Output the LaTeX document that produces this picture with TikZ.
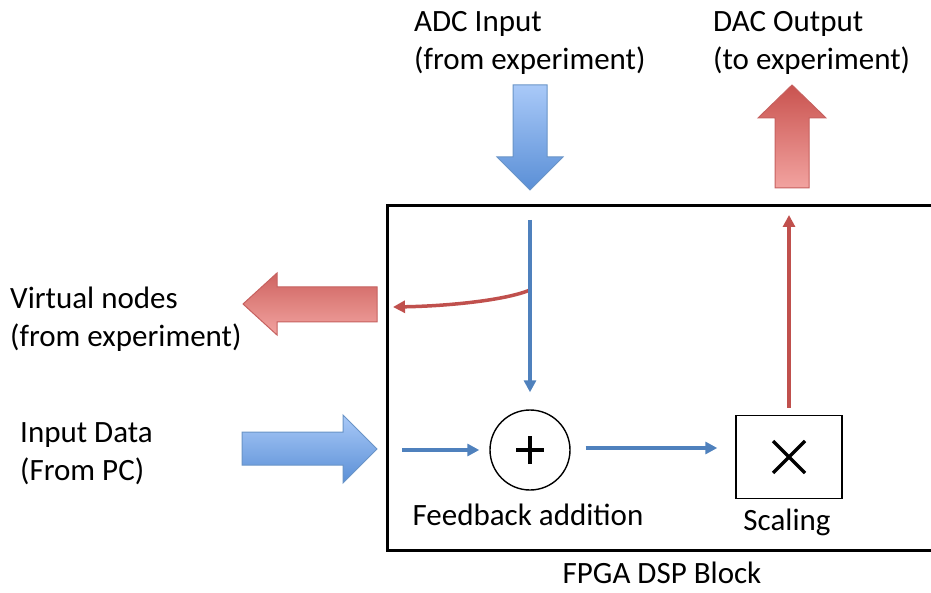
\documentclass[tikz,border=0pt]{standalone}
\usepackage{fontspec}
\setmainfont{Carlito}
\usetikzlibrary{arrows.meta}
\definecolor{flowblue}{HTML}{4F81BD}
\definecolor{flowred}{HTML}{C0504D}
\definecolor{bluelight}{HTML}{A9C9F8}
\definecolor{bluedark}{HTML}{5A8FD6}
\definecolor{redlight}{HTML}{F2A3A0}
\definecolor{reddark}{HTML}{C9534F}
\begin{document}
\begin{tikzpicture}[x=1pt,y=-1pt,
  txt/.style={font=\fontsize{31}{38}\selectfont, inner sep=0pt, align=left},
  tip/.style={-{Triangle[length=12pt,width=12pt]}},
  blueflow/.style={draw=flowblue, line width=3.5pt, tip},
  redflow/.style={draw=flowred, line width=3.5pt, tip},
  bluebig/.style={draw=flowblue!85, line width=1pt},
  redbig/.style={draw=flowred!90, line width=1pt},
  unit/.style={draw, line width=1.4pt, inner sep=0pt}]
\useasboundingbox (0,0) rectangle (931,593);

% FPGA block outline (open towards the right edge)
\draw[line width=3pt] (931,206) -- (387,206) -- (387,550) -- (931,550);

% block arrows
\shade[bluebig, top color=bluelight, bottom color=bluedark]
  (513,85) -- (547,85) -- (547,157) -- (563,157) -- (530,190) -- (497,157) -- (513,157) -- cycle;
\shade[redbig, top color=reddark, bottom color=redlight]
  (792,85) -- (826,118) -- (809,118) -- (809,188) -- (775,188) -- (775,118) -- (758,118) -- cycle;
\shade[redbig, top color=reddark!90, bottom color=redlight]
  (243,304) -- (277,273) -- (277,287) -- (377,287) -- (377,322) -- (277,322) -- (277,335) -- cycle;
\shade[bluebig, top color=bluelight, bottom color=bluedark]
  (242,432) -- (343,432) -- (343,415) -- (377,449) -- (343,483) -- (343,465) -- (242,465) -- cycle;

% labels (anchored at the baseline of their second line)
\node[txt, anchor=base west] (adc) at (414,70) {ADC Input\\(from experiment)};
\node[txt, anchor=base west] (dac) at (713,70) {DAC Output\\(to experiment)};
\node[txt, anchor=base west] (vn) at (10,346) {Virtual nodes\\(from experiment)};
\node[txt, anchor=base west] (pc) at (20,480) {Input Data\\(From PC)};

% processing units
\node[unit, circle, minimum size=80pt,
  path picture={\draw[line width=3.5pt]
    ([xshift=-14pt]path picture bounding box.center) -- ([xshift=14pt]path picture bounding box.center)
    ([yshift=-14pt]path picture bounding box.center) -- ([yshift=14pt]path picture bounding box.center);}]
  (sum) at (530,450) {};
\node[unit, minimum width=106pt, minimum height=83pt,
  path picture={\draw[line width=3.5pt]
    ([shift={(-16pt,-16pt)}]path picture bounding box.center) -- ([shift={(16pt,16pt)}]path picture bounding box.center)
    ([shift={(-16pt,16pt)}]path picture bounding box.center) -- ([shift={(16pt,-16pt)}]path picture bounding box.center);}]
  (scale) at (789,457) {};

\node[txt, anchor=base] (fb) at (528,525) {Feedback addition};
\node[txt, anchor=base] (sc) at (787,530) {Scaling};
\node[txt, anchor=base] (fpga) at (662,583) {FPGA DSP Block};

% signal paths
\coordinate (adcin) at (530,220);
\coordinate (tap) at (530,272);
\coordinate (vnout) at (393,307);
\coordinate (pcin) at (402,450);
\coordinate (dacout) at (790,215);

\draw[redflow] (tap) -- ++(0,18) .. controls +(-24,10) and +(57,-1) .. (vnout);
\draw[blueflow, shorten >=17pt] (adcin) -- (adcin |- sum.north);
\draw[blueflow, shorten >=10pt] (pcin) -- (sum.west);
\draw[blueflow, shorten <=15pt, shorten >=18pt] ([yshift=2pt]sum.east) -- ([yshift=2pt]sum.east -| scale.west);
\draw[redflow, shorten <=7pt] (scale.north) -- (scale.north |- dacout);
\end{tikzpicture}
\end{document}
